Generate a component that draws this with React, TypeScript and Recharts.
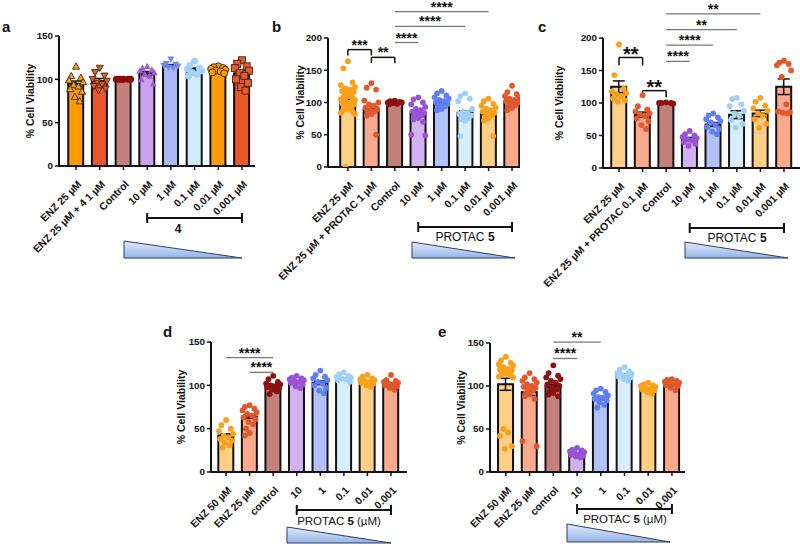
import React from 'react';
import { ComposedChart, Bar, Cell, Scatter, XAxis, YAxis, ErrorBar, ReferenceLine } from 'recharts';

const FONT = '"Liberation Sans", Arial, Helvetica, sans-serif';

// ---- panel a : compound 4
const aLabels = ['ENZ 25 µM', 'ENZ 25 µM + 4 1 µM', 'Control', '10 µM', '1 µM', '0.1 µM', '0.01 µM', '0.001 µM'];
const aMeans = [95, 98, 100, 107, 116, 111, 110, 107];
const aSem = [3, 3, 0, 2, 1, 2, 1, 3];
const aPoints = [
  [115, 104, 102, 99, 97, 94, 92, 89, 86, 80, 75],
  [113, 108, 104, 100, 98, 96, 94, 92, 89, 87],
  [100, 100, 100, 100, 100, 100],
  [115, 113, 111, 110, 108, 106, 104, 100, 95],
  [123, 118, 117, 116, 115, 114, 113],
  [121, 116, 113, 112, 110, 108, 106, 104],
  [115, 114, 113, 112, 111, 110, 109, 108, 107],
  [122, 118, 115, 113, 110, 107, 104, 100, 96, 91, 87],
];

// ---- panel b : PROTAC 5, 1 µM combo
const bLabels = ['ENZ 25 µM', 'ENZ 25 µM + PROTAC 1 µM', 'Control', '10 µM', '1 µM', '0.1 µM', '0.01 µM', '0.001 µM'];
const bMeans = [104, 90, 100, 83, 98, 84, 83, 102];
const bSem = [3, 4, 0, 3, 2, 3, 2, 2];
const bPoints = [
  [164, 153, 131, 127, 124, 122, 120, 118, 116, 115, 113, 112, 110, 108, 107, 105, 104, 102, 100, 99, 97, 95, 93, 91, 90, 88, 86, 84, 82, 0],
  [130, 123, 120, 103, 100, 97, 95, 92, 90, 88, 86, 84, 82, 80, 50],
  [103, 102, 101, 100, 100, 99, 98, 97],
  [108, 105, 100, 97, 93, 90, 88, 86, 84, 82, 80, 78, 76, 74, 70, 50, 49],
  [118, 114, 111, 108, 106, 104, 102, 100, 98, 96, 94, 92, 90, 88],
  [114, 110, 106, 102, 90, 86, 84, 82, 80, 78, 76, 74, 72, 48],
  [106, 102, 98, 95, 92, 90, 88, 86, 84, 82, 80, 78, 75, 72, 48],
  [126, 116, 113, 110, 108, 106, 104, 102, 100, 98, 96, 94, 92, 88],
];
const bSig = [
  { from: 2, to: 6, y: 241, text: '****' },
  { from: 2, to: 5, y: 218, text: '****' },
  { from: 2, to: 3, y: 193, text: '****' },
];
const bBrackets = [
  { from: 0, to: 1, y: 182, drop: 173, text: '***' },
  { from: 1, to: 2, y: 170, drop: 161, text: '**' },
];

// ---- panel c : PROTAC 5, 0.1 µM combo
const cLabels = ['ENZ 25 µM', 'ENZ 25 µM + PROTAC 0.1 µM', 'Control', '10 µM', '1 µM', '0.1 µM', '0.01 µM', '0.001 µM'];
const cMeans = [125, 82, 100, 45, 67, 82, 84, 125];
const cSem = [9, 4, 0, 2, 3, 6, 5, 12];
const cPoints = [
  [190, 143, 122, 118, 115, 113, 110, 107, 104, 102],
  [112, 95, 90, 87, 84, 82, 80, 76, 72, 66, 60],
  [101, 100, 100, 100, 99],
  [57, 52, 50, 48, 46, 44, 42, 40, 37, 34],
  [84, 81, 78, 75, 72, 70, 66, 63, 60, 56, 52],
  [108, 106, 98, 95, 88, 84, 80, 74, 68, 62],
  [108, 102, 96, 92, 88, 84, 80, 75, 68, 62],
  [165, 162, 160, 158, 150, 140, 98, 87, 86, 85, 84],
];
const cSig = [
  { from: 2, to: 6, y: 237, text: '**' },
  { from: 2, to: 5, y: 213, text: '**' },
  { from: 2, to: 4, y: 189, text: '****' },
  { from: 2, to: 3, y: 164, text: '****' },
];
const cBrackets = [
  { from: 0, to: 1, y: 170, drop: 158, text: '**' },
  { from: 1, to: 2, y: 119, drop: 109, text: '**' },
];

// ---- panels d / e
const deLabels = ['ENZ 50 µM', 'ENZ 25 µM', 'control', '10', '1', '0.1', '0.01', '0.001'];
const dMeans = [42, 64, 100, 104, 103, 107, 104, 102];
const dSem = [2, 2, 1, 1, 2, 1, 1, 1];
const dPoints = [
  [60, 54, 50, 47, 44, 42, 40, 38, 36, 34, 31, 28],
  [77, 75, 73, 71, 69, 67, 65, 63, 61, 58, 55, 50, 45, 42],
  [111, 107, 104, 102, 101, 100, 99, 98, 97, 95, 93, 90],
  [111, 109, 108, 107, 106, 105, 104, 103, 101, 99, 97],
  [117, 112, 110, 108, 106, 104, 102, 100, 97, 94, 91],
  [115, 113, 111, 110, 109, 108, 107, 106, 104],
  [112, 110, 108, 107, 106, 105, 104, 103, 102, 100, 98],
  [112, 106, 105, 104, 103, 102, 101, 100, 99, 97, 95],
];
const dSig = [
  { from: 0, to: 2, y: 132, text: '****' },
  { from: 1, to: 2, y: 115, text: '****' },
];

const eMeans = [102, 93, 100, 21, 86, 113, 97, 102];
const eSem = [7, 4, 2, 1, 2, 1, 1, 1];
const ePoints = [
  [134, 130, 127, 125, 124, 122, 120, 119, 118, 117, 116, 115, 114, 113, 112, 111, 110, 50, 46, 42, 30, 27],
  [115, 110, 108, 106, 104, 102, 100, 99, 98, 96, 95, 92, 90, 88, 85, 36, 30],
  [124, 115, 112, 110, 108, 106, 104, 102, 100, 98, 96, 94, 92, 90, 88],
  [28, 26, 25, 24, 23, 22, 21, 20, 19, 18, 17],
  [97, 95, 93, 91, 89, 87, 86, 85, 83, 81, 78, 75],
  [122, 119, 117, 115, 114, 113, 112, 111, 110, 108, 106],
  [104, 102, 101, 100, 99, 98, 97, 96, 95, 93, 91],
  [108, 107, 106, 105, 104, 103, 102, 101, 100, 98, 95],
];
const eSig = [
  { from: 2, to: 4, y: 151, text: '**' },
  { from: 2, to: 3, y: 132, text: '****' },
];

// colours
const aBarFill = ['#FF9A00', '#E9572B', '#C4817B', '#C9A0EE', '#A9B7F7', '#D2EBFC', '#FF9A0A', '#E9572B'];
const aPtFill = ['#FFA21A', '#E9572B', '#8B0B0B', '#9E5BDB', '#6C88F2', '#A3D2F5', '#FF9A0A', '#E9572B'];
const aPtStroke = ['#3a2a10', '#3a2a10', 'none', 'none', 'none', 'none', '#3a2a10', '#3a2a10'];
const aShapes = ['tri', 'inv', 'circle', 'tri', 'inv', 'circle', 'circle', 'square'];
const pastelFill = ['#FFCF86', '#F9A98C', '#C4817B', '#D3B0F2', '#B1C1F9', '#D7EDFC', '#FFCF86', '#F9A98C'];
const pastelPts = ['#F9A11B', '#E0582C', '#8C1010', '#9A52D6', '#5F80F3', '#9FD0F6', '#F9A11B', '#E0582C'];
const noStroke = Array(8).fill('none');
const circles = Array(8).fill('circle');

const jitter = [0, -0.2, 0.2, -0.3, 0.3, -0.1, 0.1, -0.25, 0.25, -0.05, 0.15, -0.15];

function marker(kind: string, cx: number, cy: number, fill: string, stroke: string, r: number) {
  const sw = stroke === 'none' ? 0 : 0.9;
  if (kind === 'tri')
    return <polygon points={`${cx},${cy - r} ${cx - r},${cy + r * 0.8} ${cx + r},${cy + r * 0.8}`} fill={fill} stroke={stroke} strokeWidth={sw} />;
  if (kind === 'inv')
    return <polygon points={`${cx},${cy + r} ${cx - r},${cy - r * 0.8} ${cx + r},${cy - r * 0.8}`} fill={fill} stroke={stroke} strokeWidth={sw} />;
  if (kind === 'square')
    return <rect x={cx - r} y={cy - r} width={r * 2} height={r * 2} fill={fill} stroke={stroke} strokeWidth={sw} />;
  return <circle cx={cx} cy={cy} r={r} fill={fill} stroke={stroke} strokeWidth={sw} />;
}

function AngledTick(props: any) {
  const { x, y, payload, labels } = props;
  const ax = x + 6;
  const ay = y + 13;
  return (
    <text x={ax} y={ay} transform={`rotate(-45 ${ax} ${ay})`} textAnchor="end" fontSize={10.4} fontWeight="bold" fill="#111" fontFamily={FONT}>
      {labels[Math.round(payload.value)]}
    </text>
  );
}

const sigLabel = (text: string, size: number, offset: number) => ({
  value: text,
  position: 'top' as const,
  offset,
  fill: '#111',
  fontSize: size,
  fontWeight: 'bold',
  fontFamily: FONT,
});

const ML = 24;

function Panel(p: any) {
  const chartLeft = p.x0 - 50 - ML;
  const width = p.x1 - chartLeft + p.mr;
  const height = p.chartBottom - p.chartTop;
  const rows = p.means.map((m: number, i: number) => ({ x: i, mean: m, sem: p.sem[i] }));
  const unit = p.yMax / (p.yBot - p.yTop);
  const sy = -p.scaleOffset * unit;
  const cap = 5 * unit;
  const axisStyle = { stroke: '#111', strokeWidth: 2 };
  const bf = p.bracketFont || 14;
  return (
    <div style={{ position: 'absolute', left: chartLeft, top: p.chartTop }}>
      <ComposedChart width={width} height={height} data={rows} margin={{ top: p.yTop - p.chartTop, right: p.mr, left: ML, bottom: 0 }}>
        <XAxis
          type="number"
          dataKey="x"
          domain={p.xDomain}
          allowDataOverflow
          ticks={[0, 1, 2, 3, 4, 5, 6, 7]}
          interval={0}
          height={p.chartBottom - p.yBot}
          tickSize={4}
          tick={<AngledTick labels={p.labels} />}
          axisLine={axisStyle}
          tickLine={{ stroke: '#111', strokeWidth: 1.5 }}
        />
        <XAxis xAxisId="pts" type="number" dataKey="x" domain={p.xDomain} allowDataOverflow hide />
        <YAxis
          type="number"
          domain={[0, p.yMax]}
          allowDataOverflow
          ticks={p.yTicks}
          width={50}
          tickSize={4}
          tick={{ fontSize: 9.8, fontWeight: 'bold', fill: '#111', fontFamily: FONT }}
          axisLine={axisStyle}
          tickLine={{ stroke: '#111', strokeWidth: 1.5 }}
          label={{
            value: '% Cell Viability',
            angle: -90,
            position: 'insideLeft',
            offset: p.labelOffset,
            style: { textAnchor: 'middle', fontSize: 10.5, fontWeight: 'bold', fill: '#111', fontFamily: FONT },
          }}
        />
        <Bar dataKey="mean" barSize={15} stroke="#111" strokeWidth={2} isAnimationActive={false}>
          {p.means.map((_: number, i: number) => (
            <Cell key={i} fill={p.barFill[i]} />
          ))}
          <ErrorBar dataKey="sem" width={6} stroke="#111" strokeWidth={1.5} />
        </Bar>
        {p.points.map((vals: number[], g: number) => (
          <Scatter
            key={`s${g}`}
            xAxisId="pts"
            data={vals.map((v, j) => ({ x: g + jitter[j % jitter.length], y: v }))}
            dataKey="y"
            isAnimationActive={false}
            shape={(sp: any) => marker(p.shapes[g], sp.cx, sp.cy, p.ptFill[g], p.ptStroke[g], p.r)}
          />
        ))}
        {p.sig.map((s: any, i: number) => (
          <ReferenceLine
            key={`g${i}`}
            segment={[{ x: s.from, y: s.y }, { x: s.to, y: s.y }]}
            stroke="#777"
            strokeWidth={1.3}
            ifOverflow="visible"
            label={sigLabel(s.text, 14, 0)}
          />
        ))}
        {p.brackets.map((b: any, i: number) => [
          <ReferenceLine key={`bh${i}`} segment={[{ x: b.from, y: b.y }, { x: b.to, y: b.y }]} stroke="#111" strokeWidth={1.5} ifOverflow="visible" label={sigLabel(b.text, bf, bf > 14 ? -3 : 0)} />,
          <ReferenceLine key={`bl${i}`} segment={[{ x: b.from, y: b.drop }, { x: b.from, y: b.y }]} stroke="#111" strokeWidth={1.5} ifOverflow="visible" />,
          <ReferenceLine key={`br${i}`} segment={[{ x: b.to, y: b.drop }, { x: b.to, y: b.y }]} stroke="#111" strokeWidth={1.5} ifOverflow="visible" />,
        ])}
        <ReferenceLine segment={[{ x: 3, y: sy }, { x: 7, y: sy }]} stroke="#111" strokeWidth={2} ifOverflow="visible" />
        <ReferenceLine segment={[{ x: 3, y: sy - cap }, { x: 3, y: sy + cap }]} stroke="#111" strokeWidth={2} ifOverflow="visible" />
        <ReferenceLine segment={[{ x: 7, y: sy - cap }, { x: 7, y: sy + cap }]} stroke="#111" strokeWidth={2} ifOverflow="visible" />
      </ComposedChart>
    </div>
  );
}

const triangles = [
  [124, 241, 242, 258],
  [412, 242, 515, 258],
  [685, 242, 788, 258],
  [287, 527, 391, 543],
  [567, 524, 670, 542],
];

export default function App() {
  return (
    <div style={{ position: 'absolute', left: 0, top: 0, width: 800, height: 546, background: '#fff', overflow: 'hidden', fontFamily: FONT }}>
      <Panel
        x0={59} x1={255} yTop={36} yBot={166} chartTop={0} chartBottom={290} mr={10}
        yMax={150} yTicks={[0, 50, 100, 150]} xDomain={[-0.72, 7.55]} labelOffset={21}
        labels={aLabels} means={aMeans} sem={aSem} points={aPoints}
        barFill={aBarFill} ptFill={aPtFill} ptStroke={aPtStroke} shapes={aShapes} r={3.5}
        sig={[]} brackets={[]} scaleOffset={52}
      />
      <Panel
        x0={328} x1={520} yTop={38} yBot={167} chartTop={0} chartBottom={290} mr={8}
        yMax={200} yTicks={[0, 50, 100, 150, 200]} xDomain={[-0.85, 7.34]} labelOffset={22}
        labels={bLabels} means={bMeans} sem={bSem} points={bPoints}
        barFill={pastelFill} ptFill={pastelPts} ptStroke={noStroke} shapes={circles} r={2.9}
        sig={bSig} brackets={bBrackets} scaleOffset={60}
      />
      <Panel
        x0={603} x1={800} yTop={38} yBot={168} chartTop={0} chartBottom={290} mr={0}
        yMax={200} yTicks={[0, 50, 100, 150, 200]} xDomain={[-0.68, 7.68]} labelOffset={6}
        labels={cLabels} means={cMeans} sem={cSem} points={cPoints}
        barFill={pastelFill} ptFill={pastelPts} ptStroke={noStroke} shapes={circles} r={2.9}
        sig={cSig} brackets={cBrackets} bracketFont={20} scaleOffset={60}
      />
      <Panel
        x0={211} x1={407} yTop={342} yBot={472} chartTop={300} chartBottom={546} mr={8}
        yMax={150} yTicks={[0, 50, 100, 150]} xDomain={[-0.64, 7.68]} labelOffset={20}
        labels={deLabels} means={dMeans} sem={dSem} points={dPoints}
        barFill={pastelFill} ptFill={pastelPts} ptStroke={noStroke} shapes={circles} r={2.9}
        sig={dSig} brackets={[]} scaleOffset={38}
      />
      <Panel
        x0={490} x1={685} yTop={343} yBot={472} chartTop={300} chartBottom={546} mr={8}
        yMax={150} yTicks={[0, 50, 100, 150]} xDomain={[-0.67, 7.55]} labelOffset={21}
        labels={deLabels} means={eMeans} sem={eSem} points={ePoints}
        barFill={pastelFill} ptFill={pastelPts} ptStroke={noStroke} shapes={circles} r={2.9}
        sig={eSig} brackets={[]} scaleOffset={37}
      />
      <svg width={800} height={546} style={{ position: 'absolute', left: 0, top: 0, pointerEvents: 'none' }}>
        <defs>
          <linearGradient id="wedge" x1="0" y1="0" x2="0" y2="1">
            <stop offset="0%" stopColor="#E4EDFB" />
            <stop offset="100%" stopColor="#93B3E8" />
          </linearGradient>
        </defs>
        {triangles.map(([l, t, r, b], i) => (
          <polygon key={i} points={`${l},${t} ${l},${b} ${r},${b}`} fill="url(#wedge)" stroke="#2B3F66" strokeWidth={1} />
        ))}
        <g fontFamily={FONT} fill="#111" fontWeight="bold" fontSize={15}>
          <text x={2} y={32}>a</text>
          <text x={272} y={32}>b</text>
          <text x={538} y={32}>c</text>
          <text x={163} y={337}>d</text>
          <text x={438} y={337}>e</text>
        </g>
        <g fontFamily={FONT} fill="#111" fontSize={12} textAnchor="middle">
          <text x={178} y={233} fontWeight="bold">4</text>
          <text x={465} y={241}>PROTAC <tspan fontWeight="bold">5</tspan></text>
          <text x={737} y={242}>PROTAC <tspan fontWeight="bold">5</tspan></text>
          <text x={339} y={525} fontSize={11.5}>PROTAC <tspan fontWeight="bold">5</tspan> (µM)</text>
          <text x={625} y={523} fontSize={11.5}>PROTAC <tspan fontWeight="bold">5</tspan> (µM)</text>
        </g>
      </svg>
    </div>
  );
}
